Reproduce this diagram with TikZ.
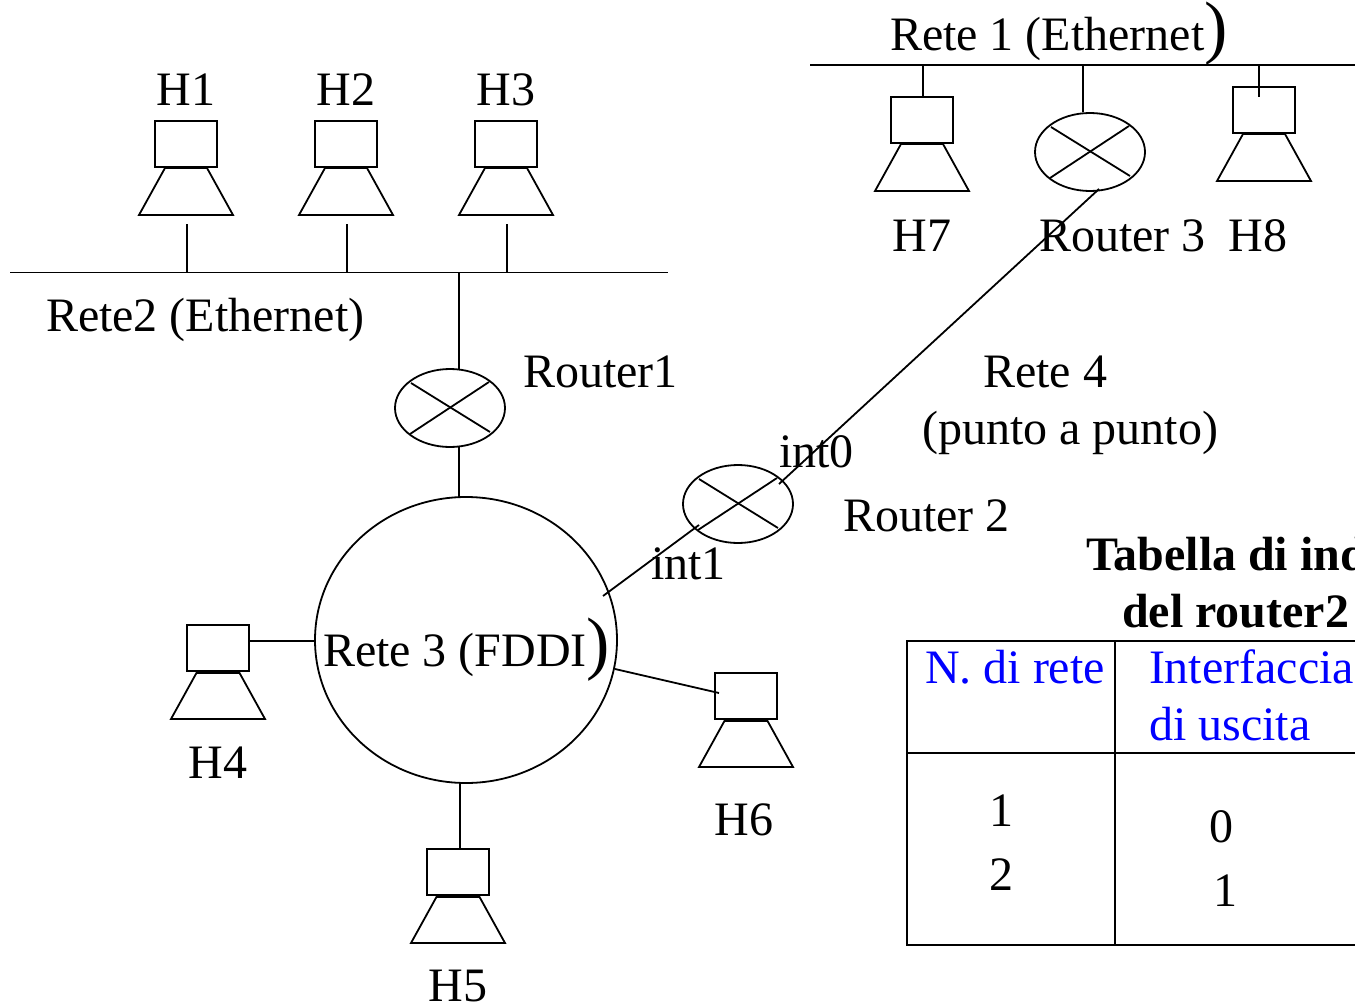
\documentclass[tikz,border=0pt]{standalone}
\usepackage{fontspec}
\setmainfont{Liberation Serif}
\usetikzlibrary{shapes.geometric}
\definecolor{tblue}{RGB}{0,0,255}
\newcommand{\bigpar}{{\fontsize{70}{70}\selectfont )}}
\newcommand{\hostat}[3]{%
  \node[monitor] (#1) at (#2,#3) {};
  \coordinate (#1-bl) at (#2-21,#3+24);
  \coordinate (#1-br) at (#2+21,#3+24);
  \draw[line width=3pt] (#1-bl) -- (#1-br);
  \draw[wire,line join=miter] (#1-bl) -- (#2-47,#3+71) -- (#2+47,#3+71) -- (#1-br);
}
\newcommand{\routerat}[3]{%
  \node[routershape] (#1) at (#2,#3) {};
  \draw[wire] (#2-39,#3-25) -- (#2+40,#3+24);
  \draw[wire] (#2+39,#3-26) -- (#2-40,#3+26);
}
\tikzset{
  x=1pt,y=-1pt,
  wire/.style={line width=1.8pt,black},
  monitor/.style={draw,line width=1.8pt,rectangle,minimum width=62pt,minimum height=46pt,inner sep=0pt,outer sep=0pt},
  routershape/.style={draw,line width=1.8pt,ellipse,minimum width=110pt,minimum height=78pt,inner sep=0pt,outer sep=0pt},
  lab/.style={anchor=base,inner sep=0pt,outer sep=0pt,font=\fontsize{48}{48}\selectfont},
  labl/.style={lab,anchor=base west,xshift=-1pt},
  bold/.style={labl,font=\fontsize{48}{48}\selectfont\bfseries},
  bluel/.style={labl,text=tblue},
}
\begin{document}
\begin{tikzpicture}
\useasboundingbox (0,0) rectangle (1355,1006);
\clip (0,0) rectangle (1355,1006);
% buses
\coordinate (busAl) at (10,272.5); \coordinate (busAr) at (668,272.5);
\coordinate (busBl) at (810,65); \coordinate (busBr) at (1356,65);
\draw[wire] (busAl) -- (busAr);
\draw[wire] (busBl) -- (busBr);
% hosts
\hostat{h1}{186}{144}
\hostat{h2}{346}{144}
\hostat{h3}{506}{144}
\hostat{h4}{218}{648}
\hostat{h5}{458}{872}
\hostat{h6}{746}{696}
\hostat{h7}{922}{120}
\hostat{h8}{1264}{110}
% routers
\routerat{r1}{450}{408}
\routerat{r2}{738}{504}
\routerat{r3}{1090}{152}
% FDDI ring
\node[draw,line width=1.8pt,ellipse,minimum width=302pt,minimum height=286pt,inner sep=0pt,outer sep=0pt] (ring) at (466,640) {};
% connector end points
\coordinate (a1) at (187,224); \coordinate (b1) at (187,272);
\coordinate (a2) at (347,224); \coordinate (b2) at (347,272);
\coordinate (a3) at (507,224); \coordinate (b3) at (507,272);
\coordinate (b7) at (923,65);  \coordinate (a7) at (923,97);
\coordinate (b8) at (1259,65); \coordinate (a8) at (1259,97);
\coordinate (br3) at (1083,65); \coordinate (ar3) at (1083,112.5);
\coordinate (br1) at (459,272); \coordinate (ar1) at (459,369.5);
\coordinate (cr1) at (459,447); \coordinate (dr1) at (459,497);
\coordinate (e4) at (250,641); \coordinate (f4) at (315,641);
\coordinate (e5) at (460,783); \coordinate (f5) at (460,849);
\coordinate (e6) at (615,669); \coordinate (f6) at (719,693);
\coordinate (p3) at (1099,189); \coordinate (p2) at (779,484);
\coordinate (q2) at (699,525); \coordinate (q1) at (603,596);
\draw[wire] (a1) -- (b1);
\draw[wire] (a2) -- (b2);
\draw[wire] (a3) -- (b3);
\draw[wire] (b7) -- (a7);
\draw[wire] (b8) -- (a8);
\draw[wire] (br3) -- (ar3);
\draw[wire] (br1) -- (ar1);
\draw[wire] (cr1) -- (dr1);
\draw[wire] (e4) -- (f4);
\draw[wire] (e5) -- (f5);
\draw[wire] (e6) -- (f6);
\draw[wire] (p3) -- (p2);
\draw[wire] (q2) -- (q1);
% labels
\node[lab] (lh1) at (186,106) {H1};
\node[lab] (lh2) at (346,106) {H2};
\node[lab] (lh3) at (506,106) {H3};
\node[lab] (lh4) at (218,778) {H4};
\node[lab] (lh5) at (458,1001) {H5};
\node[lab] (lh6) at (744,835) {H6};
\node[lab] (lh7) at (922,251) {H7};
\node[lab] (lh8) at (1258,251) {H8};
\node[labl] (lrete1) at (891,51) {Rete 1 (Ethernet\bigpar};
\node[labl] (lrete2) at (47,331) {Rete2 (Ethernet)};
\node[labl] (lrete3) at (324,666) {Rete 3 (FDDI\bigpar};
\node[lab] (lrete4) at (1045,387) {Rete 4};
\node[lab] (lpunto) at (1070,444) {(punto a punto)};
\node[labl] (lr1) at (524,387) {Router1};
\node[labl] (lr2) at (844,531) {Router 2};
\node[labl] (lr3) at (1040,251) {Router 3};
\node[labl] (li0) at (780,467) {int0};
\node[labl] (li1) at (652,579) {int1};
\node[bold] (ltab) at (1087,570) {Tabella di ind};
\node[bold] (ldel) at (1123,627) {del router2};
% table
\coordinate (t1) at (907,641); \coordinate (t2) at (1360,641);
\coordinate (t3) at (1360,945); \coordinate (t4) at (907,945);
\coordinate (t5) at (1115,641); \coordinate (t6) at (1115,945);
\coordinate (t7) at (907,753); \coordinate (t8) at (1360,753);
\draw[wire] (t2) -- (t1) -- (t4) -- (t3);
\draw[wire] (t5) -- (t6);
\draw[wire] (t7) -- (t8);
\node[bluel] (c1) at (926,683) {N. di rete};
\node[bluel] (c2) at (1150,683) {Interfaccia};
\node[bluel] (c3) at (1150,740) {di uscita};
\node[lab] (n1) at (1001,826) {1};
\node[lab] (n2) at (1001,890) {2};
\node[lab] (n3) at (1221,842) {0};
\node[lab] (n4) at (1225,906) {1};
\end{tikzpicture}
\end{document}
